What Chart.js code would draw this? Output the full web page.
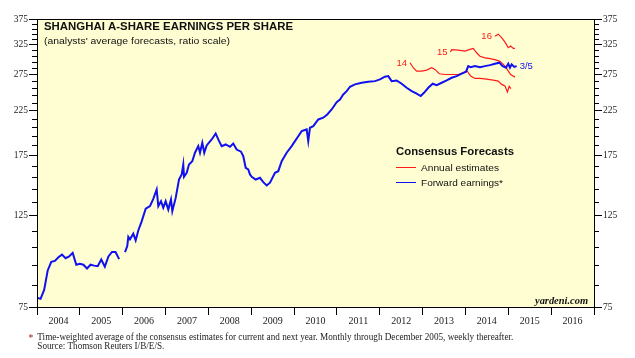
<!DOCTYPE html>
<html>
<head>
<meta charset="utf-8">
<script src="https://cdn.jsdelivr.net/npm/chart.js@4.4.1/dist/chart.umd.min.js"></script>
<style>
  html, body { margin: 0; padding: 0; background: #fff; }
  canvas { display: block; }
</style>
</head>
<body>
<canvas id="epsChart" width="635" height="358"></canvas>
<script>
// forward earnings, monthly through Dec 2005
const monthlyDates = [2004.000, 2004.083, 2004.167, 2004.250, 2004.333, 2004.417, 2004.500, 2004.583, 2004.667, 2004.750, 2004.833, 2004.917,
  2005.000, 2005.083, 2005.167, 2005.250, 2005.333, 2005.417, 2005.500, 2005.583, 2005.667, 2005.750, 2005.833, 2005.917];
const monthlyEPS = [79, 78.5, 82.5, 92, 96.5, 97, 99, 100.5, 98.5, 99.5, 101.5, 95,
  95.5, 95, 93, 95, 94.5, 94.2, 97.8, 94, 99.5, 102, 102, 98];

// forward earnings, weekly from 2006
const weeklyDates = [2006.054, 2006.107, 2006.131, 2006.170, 2006.247, 2006.303, 2006.364, 2006.443, 2006.537, 2006.637, 2006.714, 2006.793, 2006.831, 2006.894, 2006.947,
  2007.003, 2007.064, 2007.127, 2007.158, 2007.237, 2007.314, 2007.377, 2007.414, 2007.431, 2007.494, 2007.547, 2007.624, 2007.687, 2007.764, 2007.804, 2007.858, 2007.904, 2007.960,
  2008.077, 2008.170, 2008.231, 2008.310, 2008.404, 2008.504, 2008.581, 2008.660, 2008.761, 2008.814, 2008.871, 2008.931, 2008.971,
  2009.011, 2009.104, 2009.204, 2009.281, 2009.361, 2009.438, 2009.554, 2009.631, 2009.711, 2009.827, 2009.944,
  2010.021, 2010.098, 2010.177, 2010.294, 2010.331, 2010.371, 2010.448, 2010.565, 2010.681, 2010.775, 2010.877, 2010.994,
  2011.071, 2011.148, 2011.228, 2011.305, 2011.421, 2011.578, 2011.732, 2011.888,
  2012.005, 2012.120, 2012.198, 2012.278, 2012.394, 2012.511, 2012.628, 2012.745, 2012.861, 2012.955,
  2013.032, 2013.132, 2013.235, 2013.328, 2013.445, 2013.561, 2013.678, 2013.795, 2013.911,
  2014.012, 2014.065, 2014.121, 2014.222, 2014.338, 2014.455, 2014.572, 2014.688, 2014.789, 2014.868, 2014.945, 2014.999,
  2015.039, 2015.078, 2015.139, 2015.195];
const weeklyEPS = [101.9, 105.4, 111, 109.5, 113, 108.8, 115, 121, 129.9, 131.8, 137.3, 144.7, 131.8, 135.5, 130.6,
  135.5, 129.3, 136.8, 128.1, 138, 152.9, 157.3, 166.3, 155.3, 158.8, 166.3, 169.4, 177.6, 184.3, 177.6, 187.8, 177.6, 185,
  191.3, 197.8, 191.3, 184.3, 186, 183.6, 187, 180.8, 178.7, 174.2, 163.3, 161.8, 157.3,
  155.3, 152.9, 154.4, 150.7, 147.9, 150.2, 158.8, 160.2, 169.4, 177.6, 184.3,
  189.5, 194.8, 200.4, 202.3, 189.5, 204.2, 206, 213.9, 216, 220, 226.2, 235.7,
  239.2, 246, 250.6, 256.8, 260.2, 262.6, 264, 265,
  267.5, 271.6, 272.5, 265, 266, 261.2, 255.4, 250.6, 247, 243.8,
  248.3, 255.4, 261.2, 259.2, 262.6, 266, 270, 272.5, 276.2,
  279.3, 288.2, 286.6, 288.2, 286.6, 288.2, 289.8, 292, 293.8, 288.2, 285.6, 292,
  285.6, 291, 287, 288.2];

// annual estimates
const est14Dates = [2012.705, 2012.782, 2012.861, 2012.978, 2013.095, 2013.211, 2013.288, 2013.389, 2013.522, 2013.678, 2013.832, 2013.949,
  2014.042, 2014.121, 2014.222, 2014.338, 2014.495, 2014.649, 2014.765, 2014.845, 2014.922, 2014.980, 2015.020, 2015.060];
const est14 = [293.7, 285.6, 280.2, 280.2, 281.8, 285.6, 283, 276.2, 275, 275, 275, 277.4,
  280.2, 272.5, 269, 269, 268, 266.5, 265, 260.2, 257.8, 249.5, 257.5, 254];
const est15Dates = [2013.650, 2013.678, 2013.832, 2013.988, 2014.105, 2014.182, 2014.261, 2014.338, 2014.455,
  2014.572, 2014.688, 2014.805, 2014.882, 2014.945, 2014.999, 2015.055, 2015.116, 2015.155];
const est15 = [312, 316, 315, 313.3, 316.4, 318.2, 310.5, 304.6, 301.7, 300.5, 298.8, 296, 291, 286.6, 280.2, 275, 272.5, 271];
const est16Dates = [2014.688, 2014.765, 2014.845, 2014.922, 2014.999, 2015.055, 2015.116, 2015.155];
const est16 = [340.7, 344.5, 338, 329.5, 319.4, 322.5, 318.2, 318.2];

const yTickLabels = [75, 125, 175, 225, 275, 325, 375];
const xYears = [2004, 2005, 2006, 2007, 2008, 2009, 2010, 2011, 2012, 2013, 2014, 2015, 2016, 2017];

const SANS = "'Liberation Sans', Arial, sans-serif";
const SERIF = "'Liberation Serif', 'Times New Roman', serif";
const RED = '#ff1a1a';
const BLUE = '#1010f0';

const toPoints = (xs, ys) => xs.map((x, i) => ({ x: x, y: ys[i] }));
const fwdPoints = toPoints(monthlyDates, monthlyEPS)
  .concat([{ x: 2005.99, y: null }])
  .concat(toPoints(weeklyDates, weeklyEPS));

// minor ticks every 10 between labelled ticks
const yAllTicks = [];
for (let v = 75; v <= 375; v += 10) yAllTicks.push(v);

function fitText(ctx, text, x, y, font, color, width, align) {
  ctx.save();
  ctx.font = font;
  ctx.fillStyle = color;
  ctx.textBaseline = 'alphabetic';
  const w = ctx.measureText(text).width;
  const sx = width ? width / w : 1;
  ctx.translate(x, y);
  ctx.scale(sx, 1);
  ctx.textAlign = align || 'left';
  ctx.fillText(text, 0, 0);
  ctx.restore();
}

const decor = {
  id: 'decor',
  beforeDraw(chart) {
    const { ctx, chartArea: a } = chart;
    ctx.save();
    ctx.fillStyle = '#fffed2';
    ctx.fillRect(a.left, a.top, a.right - a.left, a.bottom - a.top);
    ctx.restore();
  },
  afterDraw(chart) {
    const { ctx, chartArea: a } = chart;
    const xs = chart.scales.x, ys = chart.scales.y;

    ctx.save();
    ctx.strokeStyle = '#000';
    ctx.lineWidth = 1;
    ctx.strokeRect(Math.round(a.left) + 0.5, Math.round(a.top) + 0.5, Math.round(a.right - a.left), Math.round(a.bottom - a.top));
    // minor ticks both sides
    ctx.beginPath();
    yAllTicks.forEach(v => {
      if (yTickLabels.includes(v)) return;
      const py = Math.round(ys.getPixelForValue(v)) + 0.5;
      ctx.moveTo(a.left - 5, py); ctx.lineTo(a.left, py);
      ctx.moveTo(a.right, py); ctx.lineTo(a.right + 5, py);
    });
    ctx.stroke();
    ctx.restore();

    fitText(ctx, 'SHANGHAI A-SHARE EARNINGS PER SHARE', 44, 29.5, 'bold 10.5px ' + SANS, '#111', 249);
    fitText(ctx, "(analysts' average forecasts, ratio scale)", 44, 44, '9.5px ' + SANS, '#111', 186);

    // legend
    fitText(ctx, 'Consensus Forecasts', 396, 155, 'bold 10.5px ' + SANS, '#111', 118);
    ctx.save();
    ctx.lineWidth = 1;
    ctx.strokeStyle = RED;
    ctx.beginPath(); ctx.moveTo(396, 167.5); ctx.lineTo(416, 167.5); ctx.stroke();
    ctx.strokeStyle = BLUE;
    ctx.beginPath(); ctx.moveTo(396, 182.5); ctx.lineTo(416, 182.5); ctx.stroke();
    ctx.restore();
    fitText(ctx, 'Annual estimates', 421, 171, '9.5px ' + SANS, '#111', 78);
    fitText(ctx, 'Forward earnings*', 421, 186, '9.5px ' + SANS, '#111', 82);

    // series labels, anchored to the data
    const lab = (text, px, py, color, align) => fitText(ctx, text, px, py, '9.5px ' + SANS, color, 0, align);
    lab('14', xs.getPixelForValue(est14Dates[0]) - 3, ys.getPixelForValue(est14[0]) + 3.5, RED, 'right');
    lab('15', xs.getPixelForValue(est15Dates[0]) - 3, ys.getPixelForValue(est15[0]) + 3, RED, 'right');
    lab('16', xs.getPixelForValue(est16Dates[0]) - 3, ys.getPixelForValue(est16[0]) + 3, RED, 'right');
    const lastX = weeklyDates[weeklyDates.length - 1], lastY = weeklyEPS[weeklyEPS.length - 1];
    lab('3/5', xs.getPixelForValue(lastX) + 3, ys.getPixelForValue(lastY) + 3, BLUE, 'left');

    fitText(ctx, 'yardeni.com', 535, 303.5, 'italic bold 10px ' + SERIF, '#111', 53);

    // footnote
    fitText(ctx, '*', 28.5, 341, '9.5px ' + SERIF, '#a01010', 0);
    fitText(ctx, 'Time-weighted average of the consensus estimates for current and next year. Monthly through December 2005, weekly thereafter.',
      37.3, 340, '9.5px ' + SERIF, '#222', 476);
    fitText(ctx, 'Source: Thomson Reuters I/B/E/S.', 37.3, 349, '9.5px ' + SERIF, '#222', 127);
  }
};

const yScale = (pos) => ({
  type: 'logarithmic',
  position: pos,
  min: 75,
  max: 375,
  border: { display: false },
  grid: {
    drawOnChartArea: false,
    drawTicks: true,
    tickLength: 8,
    tickColor: (c) => (c.tick && yTickLabels.includes(c.tick.value)) ? '#000' : 'rgba(0,0,0,0)'
  },
  ticks: {
    autoSkip: false,
    padding: 1,
    color: '#222',
    font: { family: SERIF, size: 9.5 },
    callback: (v) => yTickLabels.includes(v) ? String(v) : ''
  },
  afterBuildTicks: (s) => { s.ticks = yAllTicks.map(v => ({ value: v })); },
  afterFit: (s) => { s.width = pos === 'left' ? 37 : 41; }
});

new Chart(document.getElementById('epsChart'), {
  type: 'line',
  data: {
    datasets: [
      {
        label: 'Forward earnings',
        data: fwdPoints,
        borderColor: BLUE,
        borderWidth: 2,
        pointRadius: 0,
        spanGaps: false,
        tension: 0
      },
      { label: '2014', data: toPoints(est14Dates, est14), borderColor: RED, borderWidth: 1.2, pointRadius: 0 },
      { label: '2015', data: toPoints(est15Dates, est15), borderColor: RED, borderWidth: 1.2, pointRadius: 0 },
      { label: '2016', data: toPoints(est16Dates, est16), borderColor: RED, borderWidth: 1.2, pointRadius: 0 }
    ]
  },
  options: {
    responsive: false,
    animation: false,
    devicePixelRatio: 1,
    layout: { padding: { top: 19, left: 0, right: 0, bottom: 0 } },
    plugins: {
      legend: { display: false },
      tooltip: { enabled: false }
    },
    scales: {
      x: {
        type: 'linear',
        min: 2004,
        max: 2017,
        border: { display: false },
        grid: { drawOnChartArea: false, drawTicks: true, tickLength: 8, tickColor: '#000' },
        ticks: {
          autoSkip: false,
          maxRotation: 0,
          padding: 0,
          labelOffset: 21.4,
          color: '#222',
          font: { family: SERIF, size: 10 },
          callback: (v) => v < 2017 ? String(v) : ''
        },
        afterBuildTicks: (s) => { s.ticks = xYears.map(v => ({ value: v })); },
        afterFit: (s) => { s.height = 51; }
      },
      y: yScale('left'),
      y2: yScale('right')
    }
  },
  plugins: [decor]
});
</script>
</body>
</html>
